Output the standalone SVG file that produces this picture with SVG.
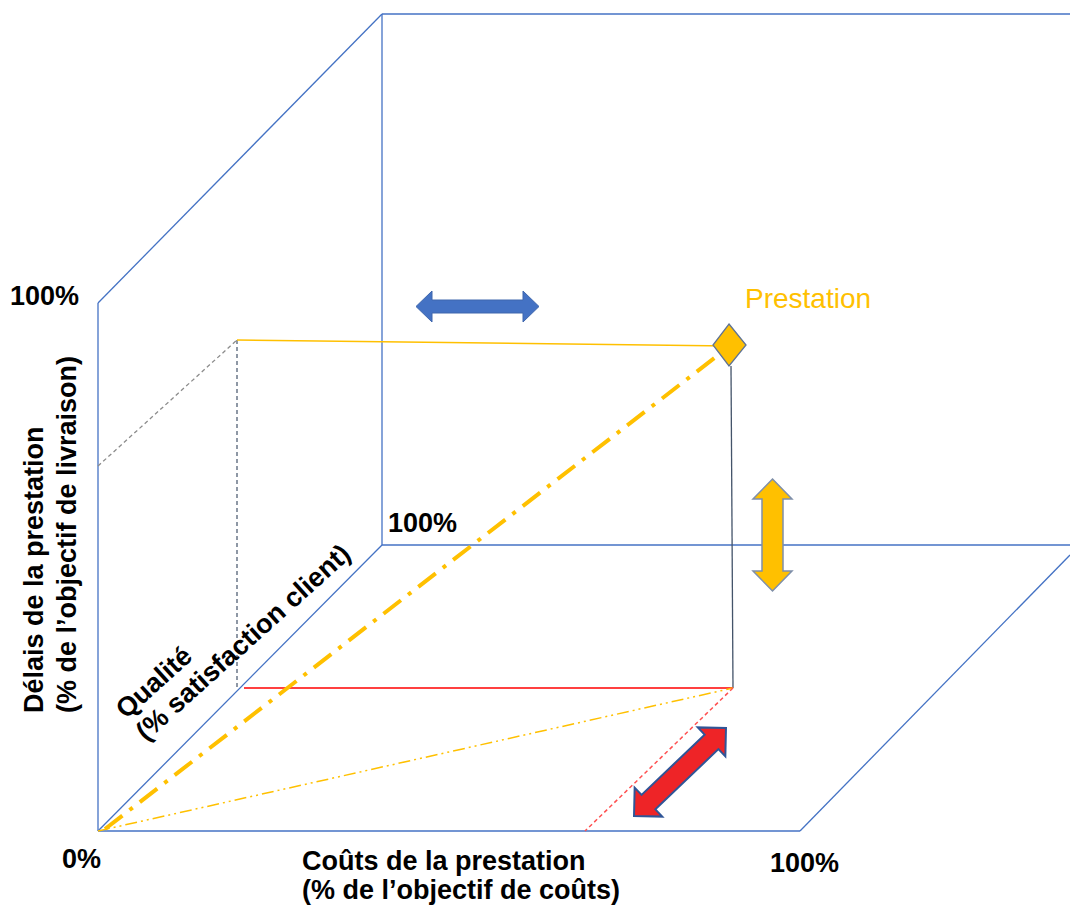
<svg xmlns="http://www.w3.org/2000/svg" width="1070" height="911" viewBox="0 0 1070 911">
<style>
.ax{stroke:#4472C4;stroke-width:1.3;fill:none}
.lbl{font-family:"Liberation Sans",Arial,sans-serif;font-weight:bold;font-size:27px;fill:#000}
.pr{font-family:"Liberation Sans",Arial,sans-serif;font-size:28px;fill:#FFC000}
</style>
<rect width="1070" height="911" fill="#fff"/>
<g id="cube">
<line class="ax" x1="98" y1="303" x2="382" y2="14"/>
<line class="ax" x1="382" y1="14" x2="1070" y2="14"/>
<line class="ax" x1="382" y1="14" x2="382" y2="545"/>
<line class="ax" x1="382" y1="545" x2="1070" y2="545"/>
<line class="ax" x1="98" y1="303" x2="98" y2="831"/>
<line class="ax" x1="98" y1="831" x2="800" y2="831"/>
<line class="ax" x1="98" y1="831" x2="382" y2="545"/>
<line class="ax" x1="800" y1="831" x2="1070" y2="555"/>
</g>
<g id="connectors">
<line x1="98" y1="466" x2="237" y2="340" stroke="#8C8C8C" stroke-width="1.3" stroke-dasharray="4,3"/>
<line x1="237" y1="340" x2="237" y2="688" stroke="#44546A" stroke-width="1.2" stroke-dasharray="4,3"/>
<line x1="237" y1="340" x2="729" y2="346" stroke="#FFC000" stroke-width="1.5"/>
<line x1="731" y1="366" x2="733" y2="688" stroke="#44546A" stroke-width="1.3"/>
<line x1="244" y1="688" x2="733" y2="688" stroke="#FF0000" stroke-width="1.3"/>
<line x1="98" y1="831" x2="733" y2="688" stroke="#FFC000" stroke-width="1.5" stroke-dasharray="12,4,2,4,2,4"/>
<line x1="733" y1="688" x2="585" y2="831" stroke="#FF5050" stroke-width="1.5" stroke-dasharray="4,3"/>
<line x1="105" y1="829" x2="726" y2="349" stroke="#FFC000" stroke-width="4" stroke-dasharray="22,9,4,9"/>
</g>
<g id="prestation-point">
<polygon points="729,324 746,345 729,366 713,345" fill="#FFC000" stroke="#5F7394" stroke-width="1.3"/>
<text class="pr" x="745" y="308">Prestation</text>
</g>
<g id="arrow-blue">
<polygon points="416,306.5 432,291 432,300 523,300 523,291 539,306.5 523,322 523,313 432,313 432,322" fill="#4472C4" stroke="#3F67AD" stroke-width="1"/>
</g>
<g id="arrow-yellow">
<polygon points="772.5,479 792,499 783,499 783,571 792,571 772.5,591 753,571 762,571 762,499 753,499" fill="#FFC000" stroke="#7F8FA9" stroke-width="1.5"/>
</g>
<g id="arrow-red">
<polygon transform="translate(680,772) rotate(-43.7)" points="-63.6,0 -43.6,-20 -43.6,-10 43.6,-10 43.6,-20 63.6,0 43.6,20 43.6,10 -43.6,10 -43.6,20" fill="#EE2427" stroke="#2F5597" stroke-width="2"/>
</g>
<g id="labels">
<text class="lbl" x="10" y="305">100%</text>
<text class="lbl" x="388" y="532">100%</text>
<text class="lbl" x="62" y="868">0%</text>
<text class="lbl" x="770" y="872">100%</text>
<text class="lbl" x="302" y="870">Coûts de la prestation</text>
<text class="lbl" x="302" y="899">(% de l’objectif de coûts)</text>
<text class="lbl" transform="translate(43,713) rotate(-90)"><tspan x="0" y="0">Délais de la prestation</tspan><tspan x="0" y="33">(% de l’objectif de livraison)</tspan></text>
<text class="lbl" transform="translate(146,742) rotate(-42)"><tspan x="0" y="-30">Qualité</tspan><tspan x="0" y="0">(% satisfaction client)</tspan></text>
</g>
</svg>
